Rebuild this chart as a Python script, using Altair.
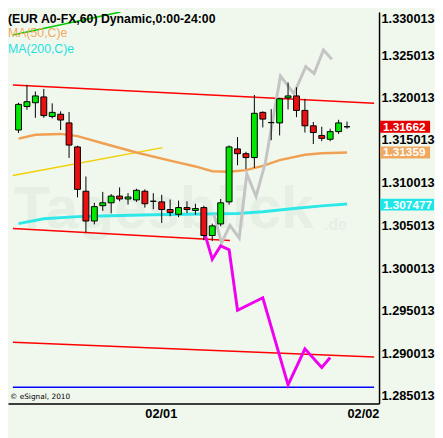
import altair as alt
import pandas as pd

# ---------------- data ----------------
hours = list(range(40))  # hourly bars, index 15 = 02/01 00:00, index 39 = 02/02 00:00
opens = [1.31624, 1.31899, 1.31944, 1.32012, 1.31782, 1.31809, 1.31707, 1.31425, 1.30905, 1.30555,
         1.30735, 1.30769, 1.30848, 1.30814, 1.30803, 1.30905, 1.30787, 1.30780, 1.30690, 1.30634,
         1.30713, 1.30679, 1.30713, 1.30385, 1.30521, 1.30780, 1.31402, 1.31346, 1.31300, 1.31831,
         1.31711, 1.31707, 1.32001, 1.32024, 1.31854, 1.31673, 1.31560, 1.31515, 1.31605, 1.31662]
closes = [1.31925, 1.31956, 1.32024, 1.31793, 1.31831, 1.31741, 1.31447, 1.30927, 1.30555, 1.30724,
          1.30769, 1.30848, 1.30814, 1.30837, 1.30916, 1.30758, 1.30787, 1.30690, 1.30656, 1.30713,
          1.30690, 1.30701, 1.30385, 1.30498, 1.30769, 1.31425, 1.31346, 1.31300, 1.31820, 1.31752,
          1.31711, 1.31990, 1.32024, 1.31854, 1.31673, 1.31594, 1.31526, 1.31605, 1.31707, 1.31662]
highs = [1.31944, 1.32155, 1.32076, 1.32106, 1.31937, 1.31843, 1.31835, 1.31439, 1.31078, 1.30769,
         1.30897, 1.30871, 1.30950, 1.30882, 1.30934, 1.30927, 1.30882, 1.30863, 1.30807, 1.30795,
         1.30787, 1.30758, 1.30735, 1.30524, 1.30814, 1.31443, 1.31541, 1.31368, 1.32035, 1.31843,
         1.31869, 1.32001, 1.32182, 1.32125, 1.31990, 1.31718, 1.31662, 1.31639, 1.31744, 1.31722]
lows = [1.31590, 1.31861, 1.31767, 1.31767, 1.31759, 1.31624, 1.31296, 1.30833, 1.30419, 1.30516,
        1.30674, 1.30645, 1.30787, 1.30747, 1.30780, 1.30713, 1.30694, 1.30532, 1.30611, 1.30600,
        1.30648, 1.30629, 1.30329, 1.30321, 1.30494, 1.30747, 1.31210, 1.31165, 1.31179, 1.31654,
        1.31504, 1.31560, 1.31865, 1.31775, 1.31594, 1.31459, 1.31492, 1.31492, 1.31578, 1.31639]

ma50_idx = [0, 2, 5, 7, 10, 14, 18, 21, 23, 25, 27, 29, 31, 34, 36, 39]
ma50_val = [1.31522, 1.31567, 1.31578, 1.31552, 1.31468, 1.31360, 1.31264, 1.31196, 1.31140,
            1.31134, 1.31153, 1.31202, 1.31270, 1.31334, 1.31351, 1.31359]
ma200_idx = [0, 3, 7, 11, 16, 22, 26, 29, 33, 36, 39]
ma200_val = [1.30524, 1.30581, 1.30607, 1.30618, 1.30629, 1.30637, 1.30643, 1.30663, 1.30705,
             1.30733, 1.30755]
gray_idx = [23.2, 24.1, 25.1, 26.2, 27.1, 28.2, 29.3, 31.1, 32.7, 34.1, 35.1, 36.2, 37.2]
gray_val = [1.30637, 1.30298, 1.30505, 1.30355, 1.31108, 1.30844, 1.31239, 1.32256, 1.32050,
            1.32369, 1.32287, 1.32564, 1.32456]
mag_idx = [22, 23, 24, 25, 26, 29, 32, 34, 36, 37]
mag_val = [1.30445, 1.30106, 1.30264, 1.30219, 1.29507, 1.29654, 1.28631, 1.29055, 1.28835, 1.28953]

# trend lines: (x0, x1), (p0, p1)
upper_x, upper_p = [-0.667, 42.22], [1.32151, 1.31939]
lower_x, lower_p = [-0.667, 25.1], [1.30468, 1.30327]
bottom_x, bottom_p = [-0.667, 42.22], [1.29131, 1.28959]
blue_x, blue_p = [-0.667, 42.22], [1.28603, 1.28603]
yellow_x, yellow_p = [-0.667, 17.1], [1.31089, 1.31417]
green_x, green_p = [-0.667, 12.1], [1.32739, 1.33010]

ytick_vals = [1.285013, 1.290013, 1.295013, 1.300013, 1.305013, 1.310013,
              1.315013, 1.320013, 1.325013, 1.330013]
xtick_pos = [15, 39]
xtick_lab = ["02/01", "02/02"]

price_tags = [1.31662, 1.31359, 1.307477]
price_tag_txt = ["1.31662", "1.31359", "1.307477"]
price_tag_col = ["#E60000", "#F0A860", "#1EE6E6"]

title_txt = "(EUR A0-FX,60) Dynamic,0:00-24:00"
ma50_txt = "MA(50,C)e"
ma200_txt = "MA(200,C)e"

# ---------------- layout ----------------
W, H = 378, 399
BG = "#F0F8EE"
X_DOM = [-0.667, 42.22]
Y_DOM = [1.28411, 1.3301]

label_expr = " : ".join(
    [f"datum.value == {p} ? '{l}'" for p, l in zip(xtick_pos, xtick_lab)]) + " : ''"

x_axis = alt.Axis(values=xtick_pos, labelExpr=label_expr, grid=False, ticks=False,
                  title=None, labelAlign="left", labelPadding=4, labelFont="Liberation Sans",
                  labelFontSize=13, labelFontWeight="bold", labelColor="black",
                  domainColor="black", domainWidth=1.5)
y_axis = alt.Axis(values=ytick_vals, format=".6f", orient="right", grid=False, ticks=False,
                  title=None, labelPadding=2, labelFont="Liberation Sans", labelFontSize=13,
                  labelFontWeight="bold", labelColor="black", domainColor="black",
                  domainWidth=1.5, labelOverlap=False,
                  labelBaseline={"condition": {"test": "datum.value > 1.33", "value": "top"},
                                 "value": "middle"},
                  labelOffset={"condition": {"test": "abs(datum.value - 1.315013) < 0.000001",
                                             "value": -1},
                               "value": 0})


def X(field="x"):
    return alt.X(f"{field}:Q", scale=alt.Scale(domain=X_DOM, nice=False, zero=False), axis=x_axis)


def Y(field="p"):
    return alt.Y(f"{field}:Q", scale=alt.Scale(domain=Y_DOM, nice=False, zero=False), axis=y_axis)


def line(xs, ps, color, width, clip=False):
    df = pd.DataFrame({"x": xs, "p": ps})
    return alt.Chart(df).mark_line(color=color, strokeWidth=width, clip=clip).encode(x=X(), y=Y())


candles = pd.DataFrame({"x": hours, "o": opens, "h": highs, "l": lows, "c": closes})
candles["dir"] = ["up" if c > o else ("down" if c < o else "flat") for o, c in zip(opens, closes)]

# watermark
WM = "#E6EFE4"
wm = alt.Chart(pd.DataFrame({"t": ["Tagesblick"]})).mark_text(
    align="left", baseline="alphabetic", font="Liberation Sans", fontSize=60,
    fontWeight="bold", color=WM).encode(
    x=alt.value(6), y=alt.value(220), text="t:N")
wm2 = alt.Chart(pd.DataFrame({"t": [".de"]})).mark_text(
    align="left", baseline="alphabetic", font="Liberation Sans", fontSize=16,
    fontWeight="bold", color=WM).encode(
    x=alt.value(322), y=alt.value(222), text="t:N")

layers = [wm, wm2]
layers.append(line(upper_x, upper_p, "#FF0000", 1.5))
layers.append(line(lower_x, lower_p, "#FF0000", 1.5))
layers.append(line(bottom_x, bottom_p, "#FF0000", 1.5))
layers.append(line(blue_x, blue_p, "#0000FF", 1.5))
layers.append(line(yellow_x, yellow_p, "#F2D000", 1.5))
layers.append(line(green_x, green_p, "#00CC00", 1.5, clip=True))
layers.append(line(ma50_idx, ma50_val, "#F0A050", 2.5))
layers.append(line(ma200_idx, ma200_val, "#2EE8E8", 3))
layers.append(line(gray_idx, gray_val, "#C4C4C4", 3))
layers.append(line(mag_idx, mag_val, "#F000F0", 3))

wicks = alt.Chart(candles).mark_rule(color="black", strokeWidth=1).encode(
    x=X(), y=Y("l"), y2="h:Q")
bodies = alt.Chart(candles).mark_bar(size=6, stroke="black", strokeWidth=1).encode(
    x=X(), y=Y("o"), y2="c:Q",
    color=alt.Color("dir:N", scale=alt.Scale(domain=["up", "down", "flat"],
                                             range=["#00E800", "#E81010", "black"]),
                    legend=None))
layers += [wicks, bodies]

# price tags on the right axis
for val, txt, col in zip(price_tags, price_tag_txt, price_tag_col):
    df = pd.DataFrame({"p": [val], "t": [txt]})
    wpx = 55 if len(txt) > 7 else 51
    base = alt.Chart(df).transform_calculate(yt="datum.p + 0.0007", yb="datum.p - 0.0007")
    layers.append(base.mark_rect(color=col).encode(
        x=alt.value(W + 1), x2=alt.value(W + 1 + wpx), y=Y("yt"), y2="yb:Q"))
    layers.append(base.mark_text(align="left", baseline="middle", font="Liberation Sans",
                                 fontSize=12, fontWeight="bold", color="white").encode(
        x=alt.value(W + 4), y=Y("p"), text="t:N"))

# header texts
def header(txt, y, color, weight, size):
    return alt.Chart(pd.DataFrame({"t": [txt]})).mark_text(
        align="left", baseline="top", font="Liberation Sans", fontSize=size,
        fontWeight=weight, color=color).encode(x=alt.value(0), y=alt.value(y), text="t:N")

layers.append(header(title_txt, 1, "black", "bold", 12.5))
layers.append(header(ma50_txt, 16, "#F0A860", "normal", 12.5))
layers.append(header(ma200_txt, 32, "#1EE0E0", "normal", 12.5))

layers.append(alt.Chart(pd.DataFrame({"t": ["\u00a9 eSignal, 2010"]})).mark_text(
    align="left", baseline="middle", font="DejaVu Sans", fontSize=7.5, color="black").encode(
    x=alt.value(2), y=alt.value(H - 7), text="t:N"))

chart = alt.layer(*layers).properties(
    width=W, height=H, background=BG,
    autosize=alt.AutoSizeParams(type="none"),
    padding={"left": 0, "top": 0, "right": 57, "bottom": 31},
).configure_view(stroke=None, fill=BG)

chart.save("out.html", embed_options={"renderer": "svg", "actions": False})
